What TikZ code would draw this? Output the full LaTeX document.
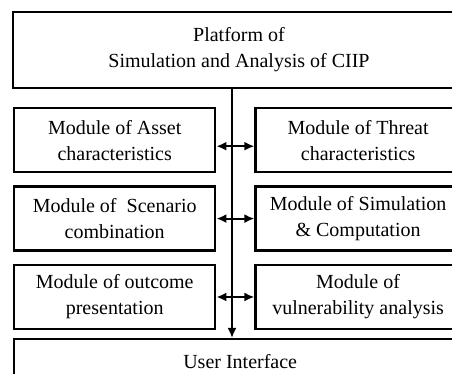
\documentclass[tikz,border=0pt]{standalone}
\usepackage{fontspec}
\setmainfont{Liberation Serif}
\usepackage{tikz}
\usetikzlibrary{positioning}
\usetikzlibrary{arrows.meta}
\tikzset{edge/.style = {->,> = {Latex[length=5pt,width=4.5pt]}}}
\tikzset{both/.style = {<->,> = {Latex[length=5pt,width=4.5pt]}}}

\begin{document}
\begin{tikzpicture}[x=0.5pt,y=-0.5pt,node distance=6pt,line width=1pt,
    box/.style={draw,line width=1.2pt,align=center,inner sep=0pt,font=\fontsize{10}{13}\selectfont},
    wide box/.style={box,minimum width=226pt},
    left box/.style={box,minimum width=100.5pt,minimum height=32pt},
    right box/.style={box,minimum width=102.5pt,minimum height=32pt}]
    \clip (0,0) rectangle (452,374);
    \node[wide box,minimum height=38pt] (platform) at (239,50) {Platform of\\Simulation and Analysis of CIIP};
    % modules, left column
    \node[left box,anchor=north west] (asset) at (13,107) {Module of Asset\\characteristics};
    \node[left box] (scenario) [below=6pt of asset] {Module of\ \ Scenario\\combination};
    \node[left box] (outcome) [below=6pt of scenario] {Module of outcome\\presentation};
    % modules, right column
    \node[right box] (threat) [right=19pt of asset] {Module of Threat\\characteristics};
    \node[right box] (simulation) [right=19pt of scenario] {Module of Simulation\\\& Computation};
    \node[right box] (vulnerability) [right=19pt of outcome] {Module of\\vulnerability analysis};
    \node[wide box,minimum height=22pt,anchor=north west] (ui) at (13,338) {User Interface};
    % the bus from the platform down to the interface
    \coordinate (spine) at (232,0);
    \draw[edge] (platform.south -| spine) -- (ui.north -| spine);
    \draw[both] ([yshift=-3pt]asset.east) -- ([yshift=-3pt]asset.east -| threat.west);
    \draw[both] (scenario.east) -- (scenario.east -| simulation.west);
    \draw[both] (outcome.east) -- (outcome.east -| vulnerability.west);
\end{tikzpicture}
\end{document}
